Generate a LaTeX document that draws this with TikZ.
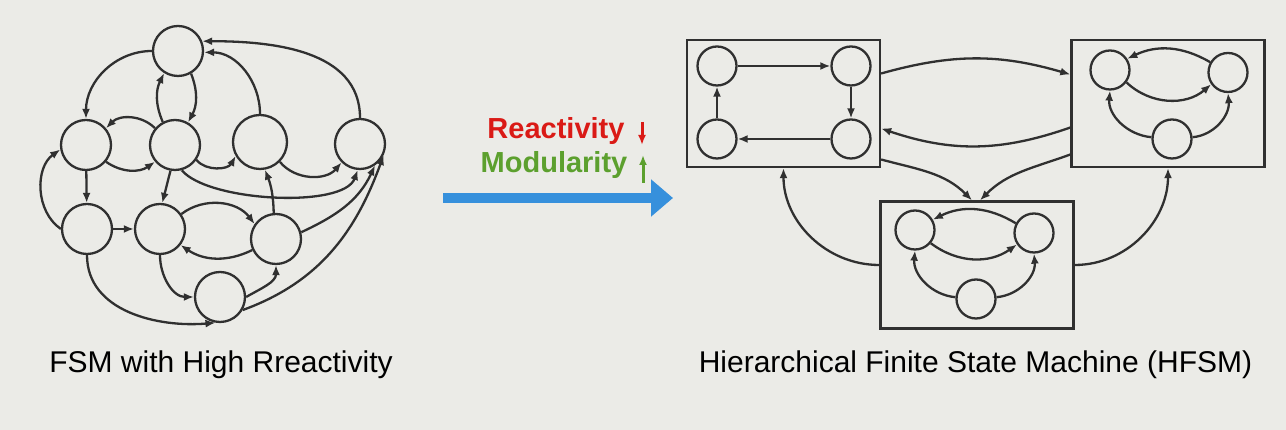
\documentclass[tikz,border=0pt]{standalone}
\usepackage{fontspec}
\setmainfont{Liberation Sans}
\usetikzlibrary{arrows.meta}

\definecolor{bgcol}{RGB}{235,235,231}
\definecolor{linecol}{RGB}{48,48,48}
\definecolor{redcol}{RGB}{218,26,22}
\definecolor{greencol}{RGB}{92,160,46}
\definecolor{bluecol}{RGB}{54,144,220}

\begin{document}
\begin{tikzpicture}[x=1pt,y=1pt,
    state/.style={circle,draw=linecol,line width=2.3pt,minimum size=50pt,inner sep=0pt},
    substate/.style={circle,draw=linecol,line width=2.3pt,minimum size=39pt,inner sep=0pt},
    superstate/.style={rectangle,draw=linecol,line width=2.3pt,minimum width=193pt,minimum height=127pt,inner sep=0pt},
    trans/.style={draw=linecol,line width=2.3pt,-{Latex[length=10pt,width=8pt]}},
    caption/.style={anchor=base,font=\fontsize{30}{36}\selectfont}]

    % Background of the slide
    \useasboundingbox (0,0) rectangle (1286,430);
    \fill[bgcol] (0,0) rectangle (1286,430);

    % Define the states of the flat FSM
    \node[state] (S1) at (178,379) {};
    \node[state] (S2) at (86,285) {};
    \node[state] (S3) at (175,285) {};
    \node[state,minimum size=54pt] (S4) at (260,288) {};
    \node[state] (S5) at (360,286) {};
    \node[state] (S6) at (87,201) {};
    \node[state] (S7) at (160,201) {};
    \node[state] (S8) at (276,191) {};
    \node[state] (S9) at (220,133) {};

    % Transitions of the flat FSM
    \draw[trans] (S1.west) to[out=180,in=90] (S2.north);
    \draw[trans] (S3.118) to[bend left=25] (S1.238);
    \draw[trans] (S1.300) to[bend left=25] (S3.60);
    \draw[trans] (S3.140) to[bend right=45] (S2.40);
    \draw[trans] (S2.-40) to[bend right=35] (S3.-140);
    \draw[trans] (S4.north) to[out=90,in=0] (S1.-3);
    \draw[trans] (S5.north) to[out=90,in=0] (S1.22);
    \draw[trans] (S3.-35) to[bend right=55] (S4.-150);
    \draw[trans] (S4.-45) to[bend right=50] (S5.-135);
    \draw[trans] (S3.-75) to[out=-50,in=-110,looseness=0.6] (S5.-95);
    \draw[trans] (S3.-100) -- (S7.85);
    \draw[trans] (S2) -- (S6);
    \draw[trans] (S6.180) to[bend left=55] (S2.190);
    \draw[trans] (S6) -- (S7);
    \draw[trans] (S6.south) to[out=-90,in=185] (S9.-100);
    \draw[trans] (S7.35) to[bend left=45] (S8.145);
    \draw[trans] (S8.-155) to[bend left=30] (S7.-38);
    \draw[trans] (S7.south) to[out=-90,in=180] (S9.west);
    \draw[trans] (S9.east) to[out=30,in=-90] (S8.south);
    \draw[trans] (S8.95) to[bend right=10] (S4.-80);
    \draw[trans] (S8.15) to[out=25,in=-115] (S5.-55);
    \draw[trans] (S9.-30) to[out=20,in=-110] (S5.-25);

    % Labels and the arrow in the middle
    \node[anchor=base,text=redcol,font=\bfseries\fontsize{29}{34}\selectfont] (react) at (556,291) {Reactivity};
    \node[anchor=base,text=greencol,font=\bfseries\fontsize{29}{34}\selectfont] (modul) at (554,257) {Modularity};
    \coordinate (downT) at (642,308);
    \coordinate (downB) at (642,285);
    \coordinate (upB) at (643,247);
    \coordinate (upT) at (643,275);
    \draw[redcol,line width=3pt,-{Latex[length=10pt,width=8pt]}] (downT) -- (downB);
    \draw[greencol,line width=3pt,-{Latex[length=10pt,width=8pt]}] (upB) -- (upT);
    \coordinate (flowS) at (443,232);
    \coordinate (flowE) at (673,232);
    \draw[bluecol,line width=10pt,-{Triangle[length=22pt,width=36pt]}] (flowS) -- (flowE);

    % Define the superstates of the HFSM
    \node[superstate] (P1) at (783.5,326.5) {};
    \node[superstate] (P2) at (1168,326.5) {};
    \node[superstate] (P3) at (977,165) {};

    % Substates inside the first superstate
    \node[substate] (P1a) at (717,364) {};
    \node[substate] (P1b) at (851,364) {};
    \node[substate] (P1c) at (851,291) {};
    \node[substate] (P1d) at (717,291) {};
    \draw[trans] (P1a) -- (P1b);
    \draw[trans] (P1b) -- (P1c);
    \draw[trans] (P1c) -- (P1d);
    \draw[trans] (P1d) -- (P1a);

    % Substates inside the second superstate
    \node[substate] (P2a) at (1110,360) {};
    \node[substate] (P2b) at (1228,357.5) {};
    \node[substate] (P2c) at (1172,291) {};
    \draw[trans] (P2b.150) to[bend right=28] (P2a.33);
    \draw[trans] (P2a.-37) to[bend right=42] (P2b.-145);
    \draw[trans] (P2c.175) to[out=175,in=-95] (P2a.-90);
    \draw[trans] (P2c.5) to[out=5,in=-85] (P2b.-90);

    % Substates inside the third superstate
    \node[substate] (P3a) at (915,200) {};
    \node[substate] (P3b) at (1034,197) {};
    \node[substate] (P3c) at (976,131) {};
    \draw[trans] (P3b.152) to[bend right=29] (P3a.30);
    \draw[trans] (P3a.-40) to[bend right=36] (P3b.-146);
    \draw[trans] (P3c.175) to[out=175,in=-95] (P3a.-90);
    \draw[trans] (P3c.5) to[out=5,in=-85] (P3b.-90);

    % Transitions between the superstates
    \draw[trans] ([yshift=30pt]P1.east) to[bend left=16] ([yshift=29pt]P2.west);
    \draw[trans] ([yshift=-24pt]P2.west) to[bend left=19] ([yshift=-25pt]P1.east);
    \draw[trans] ([yshift=-56pt]P1.east) to[out=-15,in=135] ([xshift=-5pt]P3.north);
    \draw[trans] ([yshift=-51pt]P2.west) to[out=200,in=45] ([xshift=3pt]P3.north);
    \draw[trans] (P3.west) to[out=180,in=-90] (P1.south);
    \draw[trans] (P3.east) to[out=0,in=-90] (P2.south);

    % Captions under both diagrams
    \node[caption] (capL) at (221,57) {FSM with High Rreactivity};
    \node[caption] (capR) at (975.5,57) {Hierarchical Finite State Machine (HFSM)};

\end{tikzpicture}
\end{document}
